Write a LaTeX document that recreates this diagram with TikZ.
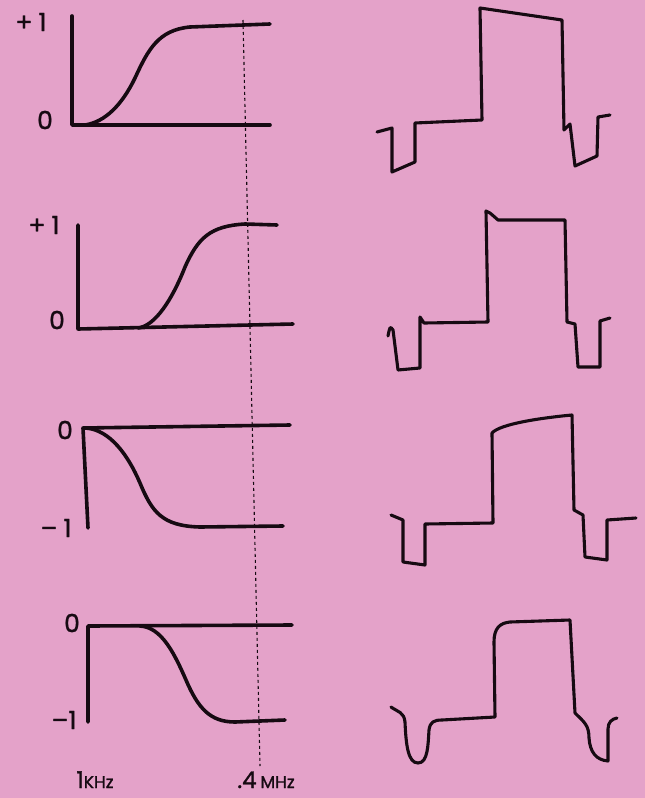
\documentclass[tikz,border=0pt]{standalone}
\usepackage{fontspec}
\setmainfont{Poppins}
\newfontfamily\labfont{Poppins}[FakeBold=1.3]
\definecolor{bgpink}{RGB}{228,162,201}
\definecolor{ink}{RGB}{22,10,18}
\begin{document}
\begin{tikzpicture}[x=1pt,y=-1pt,
  curve/.style={draw=ink,line width=3.6pt,line cap=round,line join=round},
  wave/.style={draw=ink,line width=3.1pt,line cap=round,line join=round},
  lab/.style={text=ink,font=\labfont\fontsize{25}{26}\selectfont,inner sep=0pt},
  flab/.style={text=ink,font=\labfont,inner sep=0pt,anchor=base}]
\fill[bgpink] (0,0) rectangle (645,798);
\useasboundingbox (0,0) rectangle (645,798);

% dashed marker line
\coordinate (dtop) at (243,20);
\coordinate (dbot) at (260,766);
\draw[ink,line width=1.1pt,dash pattern=on 3pt off 3pt] (dtop) -- (dbot);

% ---------- panel 1 ----------
\node[lab] (p1) at (31,22) {+\hspace{6pt}1};
\node[lab] (z1) at (45,120) {0};
\draw[curve] (72,16) -- (72,125) -- (270,125);
\draw[curve] (85,125) .. controls (105,122) and (122,105) .. (135,78)
  .. controls (148,50) and (158,30) .. (190,27) -- (270,24);

% ---------- panel 2 ----------
\node[lab] (p2) at (44,225) {+\hspace{6pt}1};
\node[lab] (z2) at (57,320) {0};
\draw[curve] (78,225) -- (78,329) -- (293,324);
\draw[curve] (138,328) .. controls (155,326) and (172,300) .. (185,267)
  .. controls (198,238) and (210,226) .. (245,224) -- (277,225);

% ---------- panel 3 ----------
\node[lab] (z3) at (65,430) {0};
\node[lab] (m3) at (56,528) {–\hspace{6pt}1};
\draw[curve] (88,528) -- (83,428) -- (290,425);
\draw[curve] (86,428) .. controls (110,430) and (128,455) .. (140,483)
  .. controls (152,512) and (162,526) .. (200,527) -- (283,526);

% ---------- panel 4 ----------
\node[lab] (z4) at (72,623) {0};
\node[lab] (m4) at (64,720) {–1};
\draw[curve] (88,722) -- (88,626) -- (292,625);
\draw[curve] (140,626) .. controls (162,627) and (175,655) .. (186,680)
  .. controls (198,708) and (210,722) .. (235,722) -- (285,720);

% axis labels
\node[flab] (khz) at (95,788) {\fontsize{23}{24}\selectfont 1\fontsize{17}{18}\selectfont KHz};
\node[flab] (mhz) at (266,788) {\fontsize{23}{24}\selectfont .4\,\fontsize{17}{18}\selectfont MHz};

% ---------- waveforms ----------
\draw[wave] (377,132) -- (392,128) -- (392,172) -- (415,162) -- (415,123)
  -- (482,120) -- (480,8) -- (562,20) -- (564,130) -- (570,124) -- (575,166)
  -- (597,156) -- (598,117) -- (610,115);

\draw[wave] (388,336) .. controls (390,326) .. (393,330) -- (398,370) -- (420,368)
  -- (420,317) -- (424,323) -- (488,322) -- (486,211)
  .. controls (489,212) .. (498,220) -- (565,220) -- (567,322) -- (575,324)
  -- (578,367) -- (600,367) -- (600,321) -- (610,318);

\draw[wave] (391,515) -- (403,520) -- (403,562) -- (425,565) -- (425,524)
  -- (493,523) -- (492,433) .. controls (500,424) and (540,418) .. (572,415)
  -- (574,510) -- (583,515) -- (585,557) -- (607,560) -- (607,520) -- (636,518);

\draw[wave] (391,707) .. controls (398,712) and (404,712) .. (405,722)
  .. controls (406,745) and (408,763) .. (418,763)
  .. controls (428,763) and (428,745) .. (429,730)
  .. controls (430,722) and (434,720) .. (442,720) -- (495,717) -- (494,642)
  .. controls (494,628) and (500,623) .. (510,622) -- (570,620) -- (575,713)
  .. controls (584,722) and (589,725) .. (589,738)
  .. controls (590,752) and (596,760) .. (608,761) -- (608,729)
  .. controls (608,722) and (612,719) .. (617,718);
\end{tikzpicture}
\end{document}
